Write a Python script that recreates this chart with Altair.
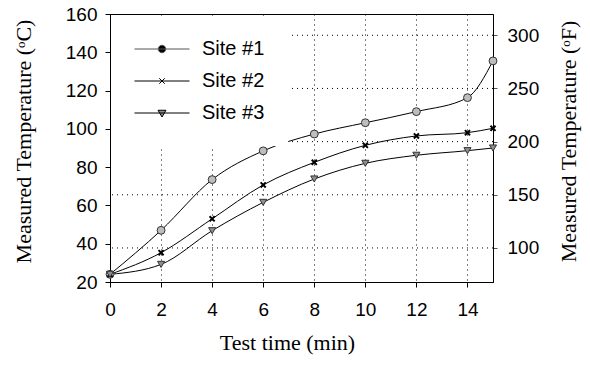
import altair as alt
import pandas as pd

# Temperature readings (deg C) at three sites during the test
minutes = [0, 2, 4, 6, 8, 10, 12, 14, 15]
site1 = [24, 47, 73.5, 88.5, 97.3, 103.2, 109, 116.3, 135.5]
site2 = [24, 35.3, 53, 70.7, 82.5, 91.4, 96.3, 98, 100.3]
site3 = [24, 29.2, 46.8, 61.6, 73.8, 82, 86.2, 88.6, 90]
sites = ["Site #1", "Site #2", "Site #3"]

time_ticks = [0, 2, 4, 6, 8, 10, 12, 14]
celsius_ticks = [20, 40, 60, 80, 100, 120, 140, 160]
fahrenheit_ticks = [100, 150, 200, 250, 300]

rows = []
for name, vals in zip(sites, [site1, site2, site3]):
    for t, v in zip(minutes, vals):
        rows.append({"site": name, "time": t, "temp": v})
df = pd.DataFrame(rows)

c_lo, c_hi = 20, 160
f_lo, f_hi = c_lo * 9 / 5 + 32, c_hi * 9 / 5 + 32

SANS = "Liberation Sans"
SERIF = "Liberation Serif"

x_enc = alt.X(
    "time:Q",
    scale=alt.Scale(domain=[0, 15], nice=False),
    axis=alt.Axis(
        values=time_ticks, title="Test time (min)", grid=True,
        gridDash=[1, 4], gridColor="black", gridOpacity=1, gridWidth=1,
        tickSize=5, labelPadding=13, titlePadding=13, titleX=177,
        labelFlush=False,
    ),
)
y_enc = alt.Y(
    "temp:Q",
    scale=alt.Scale(domain=[c_lo, c_hi], nice=False),
    axis=alt.Axis(
        values=celsius_ticks, title="Measured Temperature (\u1d52C)", grid=False,
        tickSize=5, labelPadding=8, titlePadding=30, titleY=127,
    ),
)

base = alt.Chart(df)

lines = base.mark_line(interpolate="monotone", color="black", strokeWidth=1).encode(
    x=x_enc, y=y_enc, detail="site:N"
)

marker_styles = {
    "Site #1": dict(shape="circle", size=62, filled=True, fill="#bdbdbd", stroke="#333333", strokeWidth=1),
    "Site #2": dict(shape="M-1,-1L1,1M-1,1L1,-1", size=26, filled=False, stroke="black", strokeWidth=2),
    "Site #3": dict(shape="triangle-down", size=50, filled=True, fill="#8f8f8f", stroke="#333333", strokeWidth=1),
}
markers = [
    base.transform_filter(alt.datum.site == name)
    .mark_point(opacity=1, **style)
    .encode(x=x_enc, y=y_enc)
    for name, style in marker_styles.items()
]

# legend glyphs: a horizontal line segment with the site's marker in the middle
legend_paths = [
    "M-5.5,0H5.5M-0.75,0A0.75,0.75 0 1,0 0.75,0A0.75,0.75 0 1,0 -0.75,0Z",
    "M-5.5,0H5.5M-0.55,-0.55L0.55,0.55M-0.55,0.55L0.55,-0.55",
    "M-5.5,0H5.5M-0.8,-0.55L0.8,-0.55L0,0.8Z",
]
legend_layer = (
    base.transform_filter("false")
    .mark_point(opacity=1, size=100)
    .encode(
        shape=alt.Shape(
            "site:N",
            scale=alt.Scale(domain=sites, range=legend_paths),
            legend=alt.Legend(
                title=None, orient="none", legendX=1, legendY=2,
                fillColor="white", padding=23, rowPadding=12,
                symbolSize=100, symbolStrokeWidth=1, symbolOffset=18,
                labelOffset=30, labelFont=SANS, labelFontSize=20,
                labelColor="black",
            ),
        ),
        fill=alt.Fill("site:N", scale=alt.Scale(domain=sites, range=["black", "transparent", "#8f8f8f"]), legend=None),
        stroke=alt.Stroke("site:N", scale=alt.Scale(domain=sites, range=["#555555", "black", "black"]), legend=None),
    )
)

celsius_layer = alt.layer(lines, *markers, legend_layer)

# right-hand Fahrenheit axis with its dotted reference lines
fahrenheit = (
    alt.Chart(pd.DataFrame({"f": fahrenheit_ticks}))
    .mark_rule(strokeDash=[1, 4], color="black", strokeWidth=1)
    .encode(
        y=alt.Y(
            "f:Q",
            scale=alt.Scale(domain=[f_lo, f_hi], nice=False),
            axis=alt.Axis(
                orient="right", values=fahrenheit_ticks, grid=False,
                title="Measured Temperature (\u1d52F)", tickSize=4,
                labelPadding=10, tickColor="#555555",
                titleAngle=270, titleBaseline="middle", titleX=75, titleY=127,
            ),
        )
    )
)

chart = (
    alt.layer(celsius_layer, fahrenheit)
    .resolve_scale(y="independent")
    .properties(
        width=383, height=268,
        autosize=alt.AutoSizeParams(type="none"),
        padding={"left": 110, "top": 14, "right": 97, "bottom": 83},
        background="white",
    )
    .configure_view(stroke="black", strokeWidth=1)
    .configure_axis(
        labelFont=SANS, labelFontSize=19, labelColor="black",
        titleFont=SERIF, titleFontSize=22, titleFontWeight="normal", titleColor="black",
        domainColor="black", tickColor="black", domainWidth=1, tickWidth=1,
    )
)

chart.save("out.html", embed_options={"renderer": "svg", "actions": False})
